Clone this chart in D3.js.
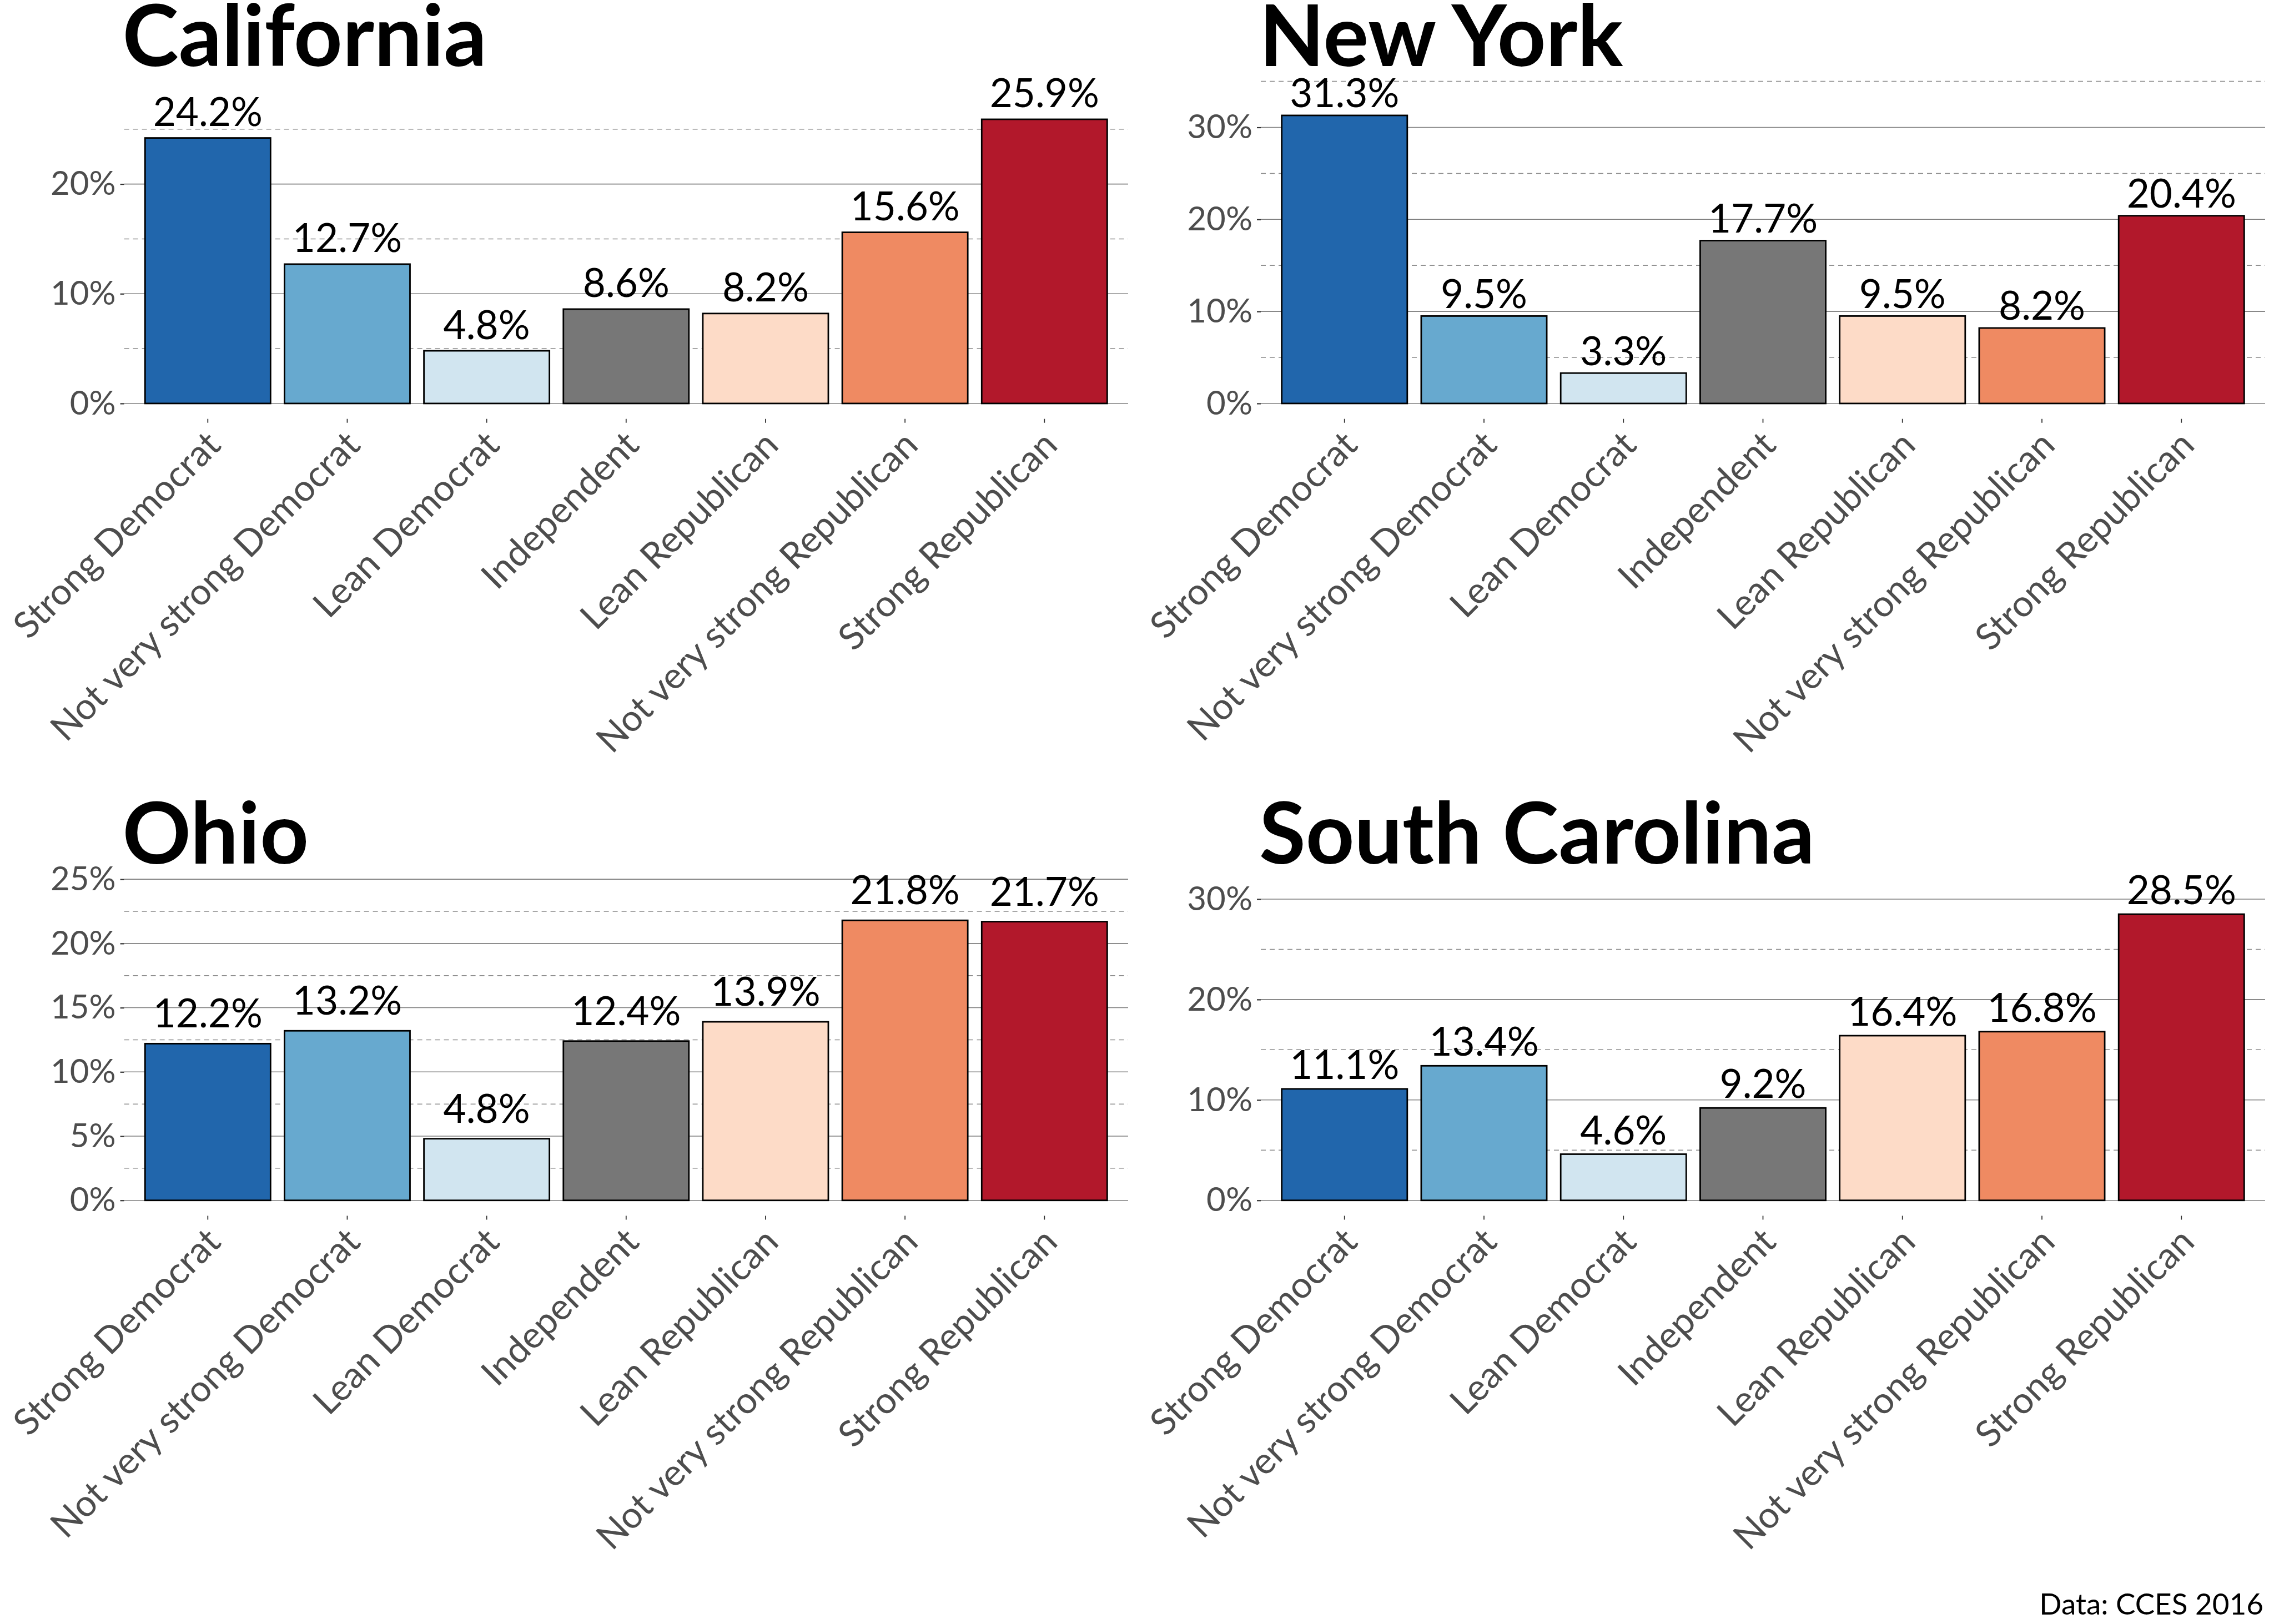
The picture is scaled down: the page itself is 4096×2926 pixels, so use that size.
<!DOCTYPE html>
<html><head><meta charset="utf-8">
<script src="https://cdn.jsdelivr.net/npm/d3@7"></script>
<style>body{margin:0;background:#fff}svg{display:block}</style>
</head><body>
<svg id="chart" width="4096" height="2926"></svg>
<script>
// ---- data ----
const categories = ["Strong Democrat","Not very strong Democrat","Lean Democrat","Independent","Lean Republican","Not very strong Republican","Strong Republican"];
const partyColors = ["#2166ac","#67a9cf","#d1e5f0","#777777","#fddbc7","#ef8a62","#b2182b"];
const stateNames = ["California","New York","Ohio","South Carolina"];
const california = [24.2,12.7,4.8,8.6,8.2,15.6,25.9];
const newYork = [31.3,9.5,3.3,17.7,9.5,8.2,20.4];
const ohio = [12.2,13.2,4.8,12.4,13.9,21.8,21.7];
const southCarolina = [11.1,13.4,4.6,9.2,16.4,16.8,28.5];
const captionText = "Data: CCES 2016";

// ---- layout ----
const W = 4096, H = 2926;
const cols = [[223.6, 2032], [2271, 4080]];
const rows = [[143.7, 754.7], [1579.5, 2190.5]];
const titleBase = [119, 1556];
const FONT = "Lato, 'Open Sans', sans-serif";
const panels = [
  {name: stateNames[0], values: california, c: 0, r: 0},
  {name: stateNames[1], values: newYork, c: 1, r: 0},
  {name: stateNames[2], values: ohio, c: 0, r: 1},
  {name: stateNames[3], values: southCarolina, c: 1, r: 1}
];
const labelLift = 2.2; // label anchor offset in data units

const svg = d3.select("#chart");
svg.append("rect").attr("width", W).attr("height", H).attr("fill", "#fff");

panels.forEach(p => {
  const [x0, x1] = cols[p.c];
  const [y0, y1] = rows[p.r];
  const L = d3.max(p.values) + labelLift;
  const y = d3.scaleLinear().domain([-0.05 * L, 1.05 * L]).range([y1, y0]);
  const x = d3.scaleBand().domain(categories).range([x0, x1]).paddingInner(0.1).paddingOuter(0.15);
  const majors = y.ticks(4).filter(t => t >= y.domain()[0] && t <= y.domain()[1]);
  const step = majors[1] - majors[0];
  const minors = [];
  for (let m = majors[0] - step / 2; m <= y.domain()[1]; m += step) {
    if (m >= y.domain()[0]) minors.push(m);
  }
  const g = svg.append("g");

  // grid
  g.selectAll(".minor").data(minors).join("line")
    .attr("x1", x0).attr("x2", x1)
    .attr("y1", d => y(d)).attr("y2", d => y(d))
    .attr("stroke", "#8a8a8a").attr("stroke-width", 1.5)
    .attr("stroke-dasharray", "9,7");
  g.selectAll(".major").data(majors).join("line")
    .attr("x1", x0).attr("x2", x1)
    .attr("y1", d => y(d)).attr("y2", d => y(d))
    .attr("stroke", "#808080").attr("stroke-width", 1.6);

  // y axis
  const ya = g.append("g").attr("transform", `translate(${x0},0)`)
    .call(d3.axisLeft(y).tickValues(majors).tickSize(7).tickPadding(8).tickFormat(d => d + "%"));
  ya.select(".domain").remove();
  ya.selectAll(".tick line").attr("stroke", "#333").attr("stroke-width", 2.2);
  ya.selectAll(".tick text").attr("fill", "#4d4d4d").style("font-family", FONT).style("font-size", "60px");

  // x axis
  const xa = g.append("g").attr("transform", `translate(0,${y1})`)
    .call(d3.axisBottom(x).tickSize(7).tickFormat(""));
  xa.select(".domain").remove();
  xa.selectAll(".tick line").attr("stroke", "#333").attr("stroke-width", 1.8);
  xa.selectAll(".tick").append("text")
    .attr("transform", "translate(26.7,50.7) rotate(-45)")
    .attr("text-anchor", "end")
    .attr("fill", "#4d4d4d")
    .style("font-family", FONT).style("font-size", "66px")
    .text(d => d);

  // bars
  g.selectAll(".bar").data(p.values).join("rect")
    .attr("x", (d, i) => x(categories[i]))
    .attr("width", x.bandwidth())
    .attr("y", d => y(d))
    .attr("height", d => y(0) - y(d))
    .attr("fill", (d, i) => partyColors[i])
    .attr("stroke", "#000").attr("stroke-width", 2.8);

  // value labels
  g.selectAll(".vlab").data(p.values).join("text")
    .attr("x", (d, i) => x(categories[i]) + x.bandwidth() / 2)
    .attr("y", d => y(d + labelLift) + 22)
    .attr("text-anchor", "middle")
    .attr("fill", "#000")
    .style("font-family", FONT).style("font-size", "71px")
    .text(d => d.toFixed(1) + "%");

  // title
  g.append("text").attr("x", x0 - 3).attr("y", titleBase[p.r])
    .style("font-family", FONT).style("font-weight", 700).style("font-size", "153px")
    .attr("fill", "#000").text(p.name);
});

svg.append("text").attr("x", 4077).attr("y", 2909).attr("text-anchor", "end")
  .style("font-family", FONT).style("font-size", "53px").attr("fill", "#000")
  .text(captionText);
</script>
</body></html>
